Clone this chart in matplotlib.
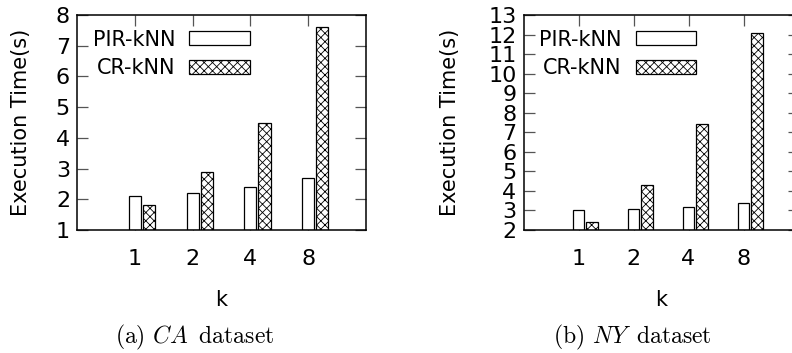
import numpy as np
import matplotlib
matplotlib.use("Agg")
import matplotlib.pyplot as plt

plt.rcParams["font.family"] = ["DejaVu Sans"]
plt.rcParams["mathtext.fontset"] = "cm"
plt.rcParams["hatch.linewidth"] = 0.6

k_labels = ["1", "2", "4", "8"]
ca_pir = [2.1, 2.2, 2.4, 2.7]
ca_cr = [1.8, 2.9, 4.5, 7.6]
ny_pir = [3.0, 3.1, 3.2, 3.4]
ny_cr = [2.4, 4.3, 7.4, 12.1]

W, H = 792, 353
fig = plt.figure(figsize=(W / 100, H / 100), dpi=100)
fig.set_facecolor("white")

ax_ca = fig.add_axes([77 / W, 123 / H, 289 / W, 215 / H])
ax_ny = fig.add_axes([523.5 / W, 123 / H, 275 / W, 215 / H])

bar_w = 0.21
offset = 0.245


def draw_panel(ax, pir, cr, ymin, ymax, ylabel_x, leg_x):
    x = np.arange(1, len(k_labels) + 1)
    ax.bar(x, [v - ymin for v in pir], bar_w, bottom=ymin, color="white",
           edgecolor="black", linewidth=0.9, label="PIR-kNN")
    ax.bar(x + offset, [v - ymin for v in cr], bar_w, bottom=ymin, color="white",
           edgecolor="black", linewidth=0.9, hatch="xxxx", label="CR-kNN")
    ax.set_axisbelow(True)
    ax.set_xlim(0, 5)
    ax.set_ylim(ymin, ymax)
    ax.set_xticks(x)
    ax.set_xticklabels(k_labels)
    ax.set_yticks(np.arange(ymin, ymax + 1))
    ax.tick_params(direction="in", length=8, width=0.9, labelsize=16,
                   top=True, right=True, color="#555555")
    ax.tick_params(axis="x", pad=14)
    ax.tick_params(axis="y", pad=5)
    for s in ax.spines.values():
        s.set_linewidth(1.1)
    ax.set_ylabel("Execution Time(s)", fontsize=15)
    ax.yaxis.set_label_coords(ylabel_x, 0.5)
    ax.set_xlabel("k", fontsize=15)
    ax.xaxis.set_label_coords(0.5, -0.28)
    ax.legend(loc="upper right", bbox_to_anchor=(leg_x, 1.0), markerfirst=False,
              frameon=False, fontsize=15, handlelength=2.9, handleheight=0.67,
              labelspacing=0.42, handletextpad=0.67, borderpad=0.7,
              borderaxespad=0.0)


draw_panel(ax_ca, ca_pir, ca_cr, 1, 8, -0.16, 0.648)
draw_panel(ax_ny, ny_pir, ny_cr, 2, 13, -0.23, 0.68)

fig.text(195 / W, 16 / H, "(a) $CA\\,$ dataset", family="cmr10",
         ha="center", va="center", fontsize=17)
fig.text(632 / W, 16 / H, "(b) $NY\\,$ dataset", family="cmr10",
         ha="center", va="center", fontsize=17)

fig.savefig("out.png", dpi=100)
